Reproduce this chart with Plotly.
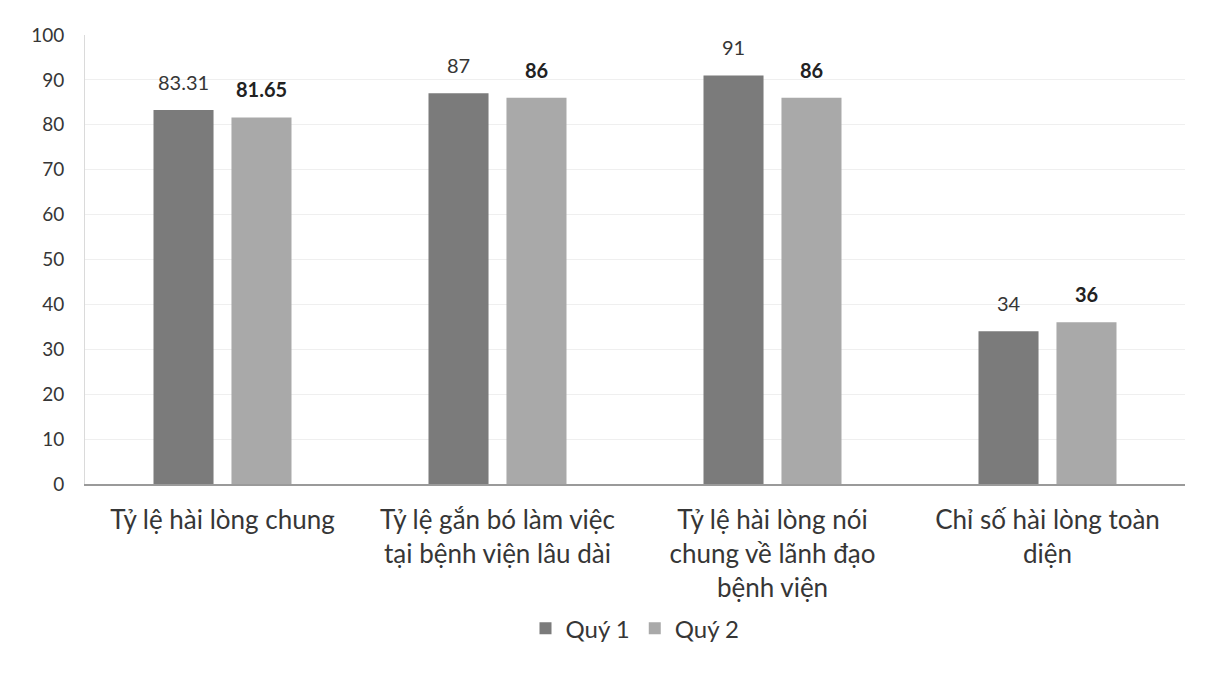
import plotly.graph_objects as go

categories = [
    "Tỷ lệ hài lòng chung",
    "Tỷ lệ gắn bó làm việc<br>tại bệnh viện lâu dài",
    "Tỷ lệ hài lòng nói<br>chung về lãnh đạo<br>bệnh viện",
    "Chỉ số hài lòng toàn<br>diện",
]
q1_values = [83.31, 87, 91, 34]
q2_values = [81.65, 86, 86, 36]
q1_labels = ["83.31", "87", "91", "34"]
q2_labels = ["81.65", "86", "86", "36"]

FONT = "Lato, 'Open Sans', sans-serif"
TXT = "#363636"

fig = go.Figure()
fig.add_trace(go.Bar(name="Quý 1", x=categories, y=q1_values,
                     marker=dict(color="#7b7b7b", line=dict(width=0))))
fig.add_trace(go.Bar(name="Quý 2", x=categories, y=q2_values,
                     marker=dict(color="#a9a9a9", line=dict(width=0))))

for c, v, t in zip(categories, q1_values, q1_labels):
    fig.add_annotation(x=c, y=v, text=t, showarrow=False, xshift=-39, yshift=28,
                       font=dict(size=20, color=TXT, family=FONT))
for c, v, t in zip(categories, q2_values, q2_labels):
    fig.add_annotation(x=c, y=v, text="<b>" + t + "</b>", showarrow=False, xshift=39, yshift=28,
                       font=dict(size=20, color="#222222", family=FONT))

fig.update_layout(
    width=1201, height=687,
    margin=dict(l=77, r=24, t=27, b=211),
    paper_bgcolor="white", plot_bgcolor="white",
    barmode="group", bargap=0.433, bargroupgap=0.23,
    font=dict(family=FONT, color=TXT),
    showlegend=True,
    legend=dict(orientation="h", x=0.5, xanchor="center", y=-0.322, yanchor="middle",
                font=dict(size=24, color=TXT, family=FONT)),
)
fig.update_yaxes(range=[0, 100], dtick=10, showgrid=True, gridcolor="#efefef", gridwidth=1,
                 showline=True, linecolor="#dadada", linewidth=1, zeroline=False,
                 tickfont=dict(size=19, color=TXT, family=FONT), ticks="", ticklen=0,
                 ticklabelstandoff=16)
fig.update_xaxes(showline=True, linecolor="#9a9a9a", linewidth=1.5, ticks="",
                 tickfont=dict(size=26, color=TXT, family=FONT), ticklabelstandoff=12)

fig.write_html("out.html")
